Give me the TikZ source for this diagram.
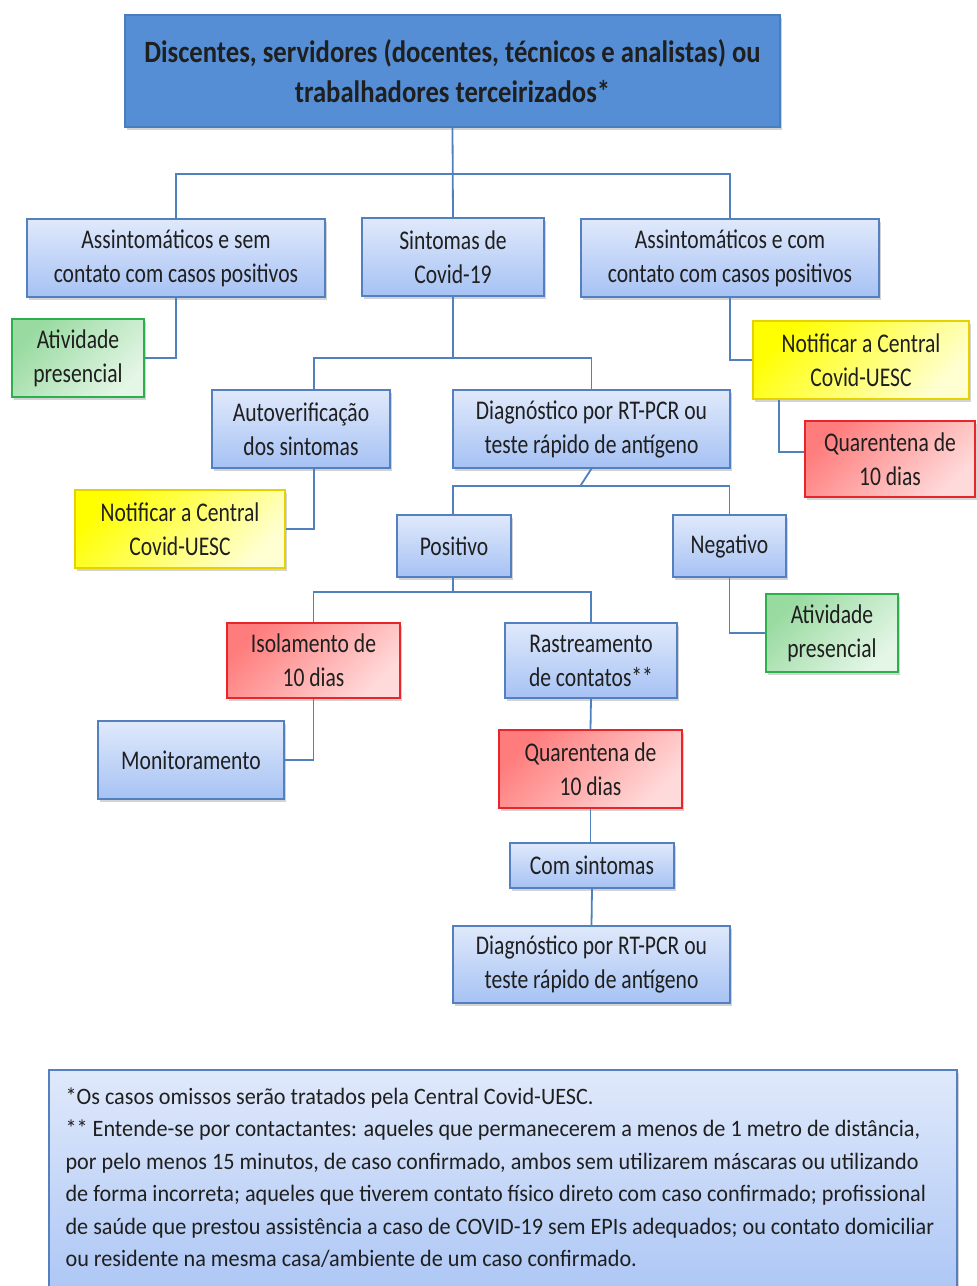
\documentclass[tikz,border=0pt]{standalone}
\usepackage{fontspec}
\setmainfont{Carlito}[FakeStretch=0.8]
\newfontfamily\topofont{Carlito}[FakeStretch=0.86]
\newfontfamily\notafont{Carlito}[FakeStretch=0.945]
\usetikzlibrary{shadows}

\definecolor{liga}{HTML}{4F81BD}
\definecolor{bordaazul}{HTML}{5580C0}
\definecolor{azulclaro}{HTML}{E0E9FB}
\definecolor{azulmedio}{HTML}{A6C2F4}
\definecolor{azultopo}{HTML}{558ED5}
\definecolor{bordatopo}{HTML}{4A7EBB}
\definecolor{verm}{HTML}{FF7C7C}
\definecolor{vermclaro}{HTML}{FFDADA}
\definecolor{bordaverm}{HTML}{E8252B}
\definecolor{amar}{HTML}{FFFF00}
\definecolor{amarclaro}{HTML}{FFFFD2}
\definecolor{bordaamar}{HTML}{E6D200}
\definecolor{verde}{HTML}{98DAA0}
\definecolor{verdeclaro}{HTML}{E4F6E6}
\definecolor{bordaverde}{HTML}{2EAF4E}
\definecolor{texto}{HTML}{1F1F1F}

\tikzset{
  base/.style={draw=bordaazul, line width=1.3pt, align=center, text=texto, inner sep=0pt,
    font=\fontsize{27}{34}\selectfont,
    drop shadow={shadow xshift=1.5pt, shadow yshift=-2.5pt, opacity=0.35}},
  caixa/.style={base, top color=azulclaro, bottom color=azulmedio},
  vermelha/.style={base, draw=bordaverm, left color=verm, right color=vermclaro, shading angle=45},
  amarela/.style={base, draw=bordaamar, left color=amar, right color=amarclaro, shading angle=45},
  verdebox/.style={base, draw=bordaverde, left color=verde, right color=verdeclaro, shading angle=45},
  ligacao/.style={draw=liga, line width=1.8pt}
}

\begin{document}
\begin{tikzpicture}[x=1pt,y=-1pt]
  \useasboundingbox (0,0) rectangle (977,1286);

  \node[base, fill=azultopo, draw=bordatopo, minimum width=655, minimum height=112,
    font=\topofont\fontsize{31}{40}\selectfont\bfseries] (topo) at (452.5,71)
    {Discentes, servidores (docentes, técnicos e analistas) ou\\ trabalhadores terceirizados*};

  \node[caixa, minimum width=298, minimum height=78] (asem) at (176,258) {Assintomáticos e sem\\ contato com casos positivos};
  \node[caixa, minimum width=182, minimum height=78] (sint) at (453,257) {Sintomas de\\ Covid-19};
  \node[caixa, minimum width=298, minimum height=78] (acom) at (730,258) {Assintomáticos e com\\ contato com casos positivos};

  \node[verdebox, minimum width=132, minimum height=78] (ativA) at (78,358) {Atividade\\ presencial};
  \node[amarela, minimum width=216, minimum height=78] (notifA) at (861,360) {Notificar a Central\\ Covid-UESC};
  \node[vermelha, minimum width=170, minimum height=76] (quarA) at (890,459) {Quarentena de\\ 10 dias};

  \node[caixa, minimum width=178, minimum height=78] (autov) at (301,429) {Autoverificação\\ dos sintomas};
  \node[caixa, minimum width=277, minimum height=78] (diagA) at (591.5,429) {Diagnóstico por RT-PCR ou\\ teste rápido de antígeno};
  \node[amarela, minimum width=210, minimum height=78] (notifB) at (180,529) {Notificar a Central\\ Covid-UESC};

  \node[caixa, minimum width=114, minimum height=62] (posit) at (454,546) {Positivo};
  \node[caixa, minimum width=113, minimum height=62] (negat) at (729.5,546) {Negativo};
  \node[verdebox, minimum width=132, minimum height=78] (ativB) at (832,633) {Atividade\\ presencial};

  \node[vermelha, minimum width=173, minimum height=75] (isol) at (313.5,660.5) {Isolamento de\\ 10 dias};
  \node[caixa, minimum width=172, minimum height=75] (rastr) at (591,660.5) {Rastreamento\\ de contatos**};
  \node[caixa, minimum width=186, minimum height=78] (monit) at (191,760) {Monitoramento};
  \node[vermelha, minimum width=183, minimum height=78] (quarB) at (590.5,769) {Quarentena de\\ 10 dias};
  \node[caixa, minimum width=164, minimum height=45] (comsint) at (592,865.5) {Com sintomas};
  \node[caixa, minimum width=277, minimum height=77] (diagB) at (591.5,964.5) {Diagnóstico por RT-PCR ou\\ teste rápido de antígeno};

  \node[caixa, minimum width=908, minimum height=250] (nota) at (503,1195) {};
  \node[anchor=north west, align=left, inner sep=0pt, text=texto, font=\notafont\fontsize{23.5}{32.5}\selectfont]
    (notatexto) at ([xshift=17,yshift=-18]nota.north west)
    {*Os casos omissos serão tratados pela Central Covid-UESC.\\
     ** Entende-se por contactantes: aqueles que permanecerem a menos de 1 metro de distância,\\
     por pelo menos 15 minutos, de caso confirmado, ambos sem utilizarem máscaras ou utilizando\\
     de forma incorreta; aqueles que tiverem contato físico direto com caso confirmado; profissional\\
     de saúde que prestou assistência a caso de COVID-19 sem EPIs adequados; ou contato domiciliar\\
     ou residente na mesma casa/ambiente de um caso confirmado.};

  \draw[ligacao] (topo.south) -- (sint.north);
  \draw[ligacao] (asem.north) |- ([yshift=-46]topo.south) -| (acom.north);
  \draw[ligacao] (asem.south) |- (ativA.east);
  \draw[ligacao] (acom.south) |- (notifA.west);
  \draw[ligacao] ([xshift=27]notifA.south west) |- ([yshift=7]quarA.west);

  \draw[ligacao] (sint.south) -- ([yshift=-61]sint.south);
  \draw[ligacao] ([xshift=13]autov.north) |- ([yshift=-61]sint.south) -| (diagA.north);
  \draw[ligacao] ([xshift=13]autov.south) |- (notifB.east);
  \draw[ligacao] (diagA.south) -- ++(-11,17) coordinate (dp);
  \draw[ligacao] ([xshift=-1]posit.north) |- (dp) -| (negat.north);
  \draw[ligacao] (negat.south) |- (ativB.west);

  \draw[ligacao] ([xshift=-1]posit.south) -- ([xshift=-1,yshift=-14]posit.south);
  \draw[ligacao] (isol.north) |- ([xshift=-1,yshift=-14]posit.south) -| (rastr.north);
  \draw[ligacao] (isol.south) |- (monit.east);
  \draw[ligacao] (rastr.south) -- (quarB.north);
  \draw[ligacao] (quarB.south) -- (quarB.south |- comsint.north);
  \draw[ligacao] (comsint.south) -- (diagB.north);
\end{tikzpicture}
\end{document}
